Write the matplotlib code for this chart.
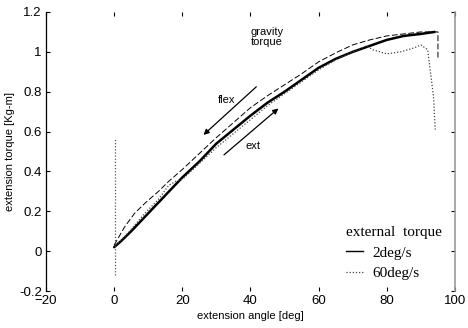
import matplotlib
matplotlib.use("Agg")
import matplotlib.pyplot as plt
from matplotlib.lines import Line2D

# ---- data ----
ext_angle = [0, 2, 5, 10, 15, 20, 25, 30, 35, 40, 45, 50, 55, 60, 65, 70, 75, 80, 85, 90, 94]
ext_torque = [0.02, 0.05, 0.10, 0.19, 0.28, 0.37, 0.45, 0.54, 0.61, 0.68, 0.745, 0.80, 0.86,
              0.92, 0.965, 1.00, 1.03, 1.06, 1.08, 1.09, 1.10]

flex_angle = [0, 3, 6, 9, 13, 16, 20, 25, 30, 35, 40, 45, 50, 55, 60, 65, 70, 75, 80, 85, 90, 94, 95, 95]
flex_torque = [0.03, 0.12, 0.19, 0.24, 0.30, 0.35, 0.41, 0.49, 0.57, 0.645, 0.72, 0.78, 0.835,
               0.89, 0.95, 0.995, 1.035, 1.06, 1.08, 1.09, 1.10, 1.10, 1.10, 0.97]

fast_spike_angle = [0.3, 0.3]
fast_spike_torque = [-0.12, 0.57]

fast_angle = [0.4, 3, 6, 9, 13, 16, 18, 20, 25, 30, 35, 40, 45, 50, 55, 60, 65, 70, 74, 76,
              80, 84, 88, 90, 92, 92.7, 93.7, 94.2]
fast_torque = [0.03, 0.07, 0.13, 0.19, 0.26, 0.33, 0.35, 0.36, 0.44, 0.52, 0.59, 0.66, 0.73,
               0.79, 0.85, 0.91, 0.96, 1.00, 1.03, 1.01, 0.99, 1.00, 1.02, 1.035, 1.01,
               0.91, 0.775, 0.61]

xticks = [-20, 0, 20, 40, 60, 80, 100]
yticks = [-0.2, 0, 0.2, 0.4, 0.6, 0.8, 1, 1.2]
ytick_labels = ["-0.2", "0", "0.2", "0.4", "0.6", "0.8", "1", "1.2"]

plt.rcParams['font.family'] = ['Liberation Sans', 'DejaVu Sans']

fig = plt.figure(figsize=(4.68, 3.28), dpi=100)
ax = fig.add_axes([46 / 468, (328 - 291) / 328, (455 - 46) / 468, (291 - 12) / 328])

ax.plot(ext_angle, ext_torque, color='black', lw=1.8, solid_capstyle='round')
ax.plot(flex_angle, flex_torque, color='black', lw=0.7, ls=(0, (6, 2.5)))
ax.plot(fast_spike_angle, fast_spike_torque, color='#555555', lw=0.9, ls=(0, (1, 1.5)))
ax.plot(fast_angle, fast_torque, color='#444444', lw=0.9, ls=(0, (1, 1.5)))

ax.set_xlim(-20, 100)
ax.set_ylim(-0.2, 1.2)
ax.set_xticks(xticks)
ax.set_yticks(yticks)
ax.set_yticklabels(ytick_labels)
ax.tick_params(direction='in', top=True, right=True, length=3, width=0.8,
               labelsize=9.5, pad=3)

ax.spines['top'].set_visible(False)
ax.spines['bottom'].set_visible(False)
ax.spines['left'].set_linewidth(0.9)
ax.spines['right'].set_color('#999999')
ax.spines['right'].set_linewidth(1.2)

ax.set_xlabel('extension angle [deg]', fontsize=8, labelpad=3)
ax.set_ylabel('extension torque [Kg-m]', fontsize=8, labelpad=3)

# annotations
ax.text(40, 1.125, 'gravity\ntorque', fontsize=8, va='top', ha='left', linespacing=1.05)
ax.annotate('', xy=(25.6, 0.574), xytext=(42.3, 0.834),
            arrowprops=dict(arrowstyle='-|>', color='black', lw=0.9, mutation_scale=8))
ax.annotate('', xy=(48.8, 0.725), xytext=(31.6, 0.474),
            arrowprops=dict(arrowstyle='-|>', color='black', lw=0.9, mutation_scale=8))
ax.text(33, 0.76, 'flex', fontsize=8, ha='center', va='center')
ax.text(40.8, 0.53, 'ext', fontsize=8, ha='center', va='center')

handles = [Line2D([], [], color='black', lw=1.0),
           Line2D([], [], color='#444444', lw=0.9, ls=(0, (1, 1.5)))]
leg = ax.legend(handles, ['2deg/s', '60deg/s'], title='external  torque',
                loc='lower right', bbox_to_anchor=(0.995, 0.0), frameon=False,
                prop={'family': 'Liberation Serif', 'size': 11},
                handlelength=1.1, handletextpad=0.6, labelspacing=0.45,
                borderaxespad=0.3)
leg.get_title().set_fontfamily('Liberation Serif')
leg.get_title().set_fontsize(11)
leg._legend_box.align = 'left'

fig.savefig('out.png', dpi=100)
